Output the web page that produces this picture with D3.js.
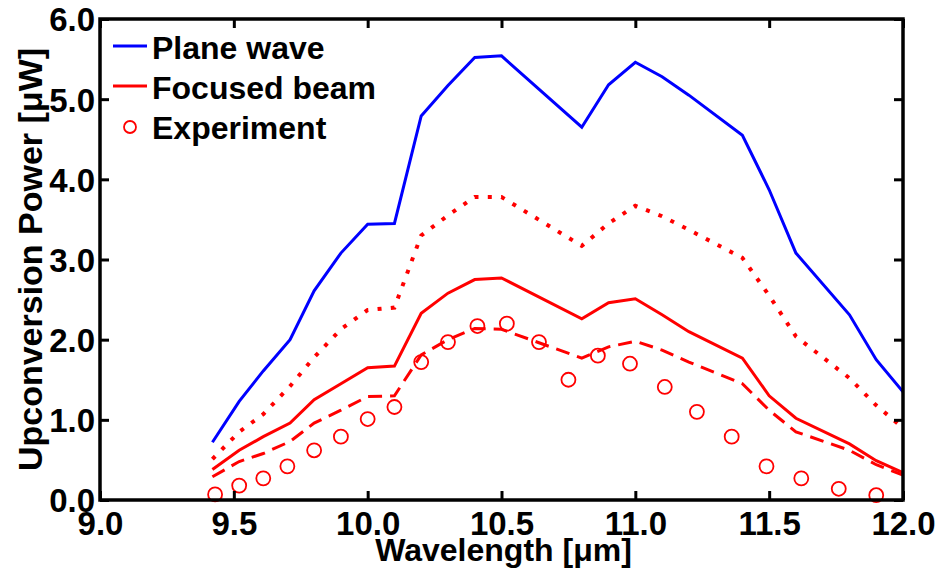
<!DOCTYPE html>
<html><head><meta charset="utf-8">
<script src="https://cdn.jsdelivr.net/npm/d3@7"></script>
<style>
html,body{margin:0;padding:0;background:#fff;}
text{font-family:"Liberation Sans",Arial,sans-serif;font-weight:bold;fill:#000;}
</style></head>
<body><svg id="c" width="939" height="578"></svg>
<script>
// ---- data ----
const wavelength = [9.42, 9.52, 9.61, 9.71, 9.80, 9.90, 10.00, 10.10, 10.20, 10.30, 10.40, 10.50, 10.80, 10.90, 11.00, 11.10, 11.20, 11.40, 11.50, 11.60, 11.80, 11.90, 12.00];
const planeWave   = [0.72, 1.23, 1.61, 2.00, 2.61, 3.08, 3.44, 3.45, 4.79, 5.17, 5.52, 5.54, 4.65, 5.18, 5.46, 5.28, 5.05, 4.55, 3.87, 3.08, 2.31, 1.75, 1.35];
const dottedRed   = [0.51, 0.85, 1.07, 1.42, 1.78, 2.13, 2.37, 2.40, 3.30, 3.55, 3.78, 3.78, 3.17, 3.45, 3.67, 3.54, 3.37, 3.02, 2.55, 2.04, 1.52, 1.18, 0.90];
const focusedBeam = [0.38, 0.62, 0.79, 0.96, 1.25, 1.45, 1.65, 1.67, 2.33, 2.58, 2.75, 2.77, 2.26, 2.46, 2.51, 2.31, 2.10, 1.77, 1.30, 1.02, 0.70, 0.49, 0.34];
const dashedRed   = [0.29, 0.48, 0.58, 0.73, 0.96, 1.12, 1.29, 1.30, 1.81, 2.00, 2.14, 2.13, 1.77, 1.91, 1.98, 1.87, 1.72, 1.45, 1.12, 0.85, 0.62, 0.44, 0.31];
const expWavelength = [9.43, 9.52, 9.61, 9.70, 9.80, 9.90, 10.00, 10.10, 10.20, 10.30, 10.41, 10.52, 10.64, 10.75, 10.86, 10.98, 11.11, 11.23, 11.36, 11.49, 11.62, 11.76, 11.90];
const expPower      = [0.07, 0.18, 0.27, 0.42, 0.62, 0.79, 1.01, 1.16, 1.72, 1.97, 2.17, 2.20, 1.97, 1.50, 1.80, 1.70, 1.41, 1.10, 0.79, 0.42, 0.27, 0.14, 0.06];
const xTicks = [9.0, 9.5, 10.0, 10.5, 11.0, 11.5, 12.0];
const yTicks = [0, 1, 2, 3, 4, 5, 6];
const legendLabels = ["Plane wave", "Focused beam", "Experiment"];
const xLabel = "Wavelength [\u03bcm]";
const yLabel = "Upconversion Power [\u03bcW]";

// ---- layout ----
const L = 100, R = 903, T = 19, B = 500;
const svg = d3.select("#c");
const x = d3.scaleLinear().domain([9, 12]).range([L, R]);
const y = d3.scaleLinear().domain([0, 6]).range([B, T]);

svg.append("clipPath").attr("id","clp").append("rect")
  .attr("x", L).attr("y", T).attr("width", R-L).attr("height", B-T);

const plot = svg.append("g").attr("clip-path","url(#clp)");
const line = d3.line().x(d => x(d[0])).y(d => y(d[1]));
const zip = (a, b) => a.map((v, i) => [v, b[i]]);

const series = [
  {vals: planeWave, color: "#0000ff", dash: null, w: 3},
  {vals: dottedRed, color: "#ff0000", dash: "4,9.3", w: 4},
  {vals: focusedBeam, color: "#ff0000", dash: null, w: 3},
  {vals: dashedRed, color: "#ff0000", dash: "14,8", w: 3}
];
series.forEach(s => {
  plot.append("path").datum(zip(wavelength, s.vals))
    .attr("d", line).attr("fill","none").attr("stroke", s.color)
    .attr("stroke-width", s.w).attr("stroke-dasharray", s.dash)
    .attr("stroke-linejoin","miter");
});
svg.append("g").selectAll("circle").data(zip(expWavelength, expPower)).join("circle")
  .attr("cx", d => x(d[0])).attr("cy", d => y(d[1])).attr("r", 7)
  .attr("fill","none").attr("stroke","#ff0000").attr("stroke-width", 1.8);

// ---- axes ----
const tickLen = 9;
const fmt = d3.format(".1f");
const axB = svg.append("g").attr("transform", `translate(0,${B})`)
  .call(d3.axisBottom(x).tickValues(xTicks).tickSize(-tickLen).tickPadding(0).tickFormat(fmt));
const axT = svg.append("g").attr("transform", `translate(0,${T})`)
  .call(d3.axisTop(x).tickValues(xTicks).tickSize(-tickLen).tickFormat(""));
const axL = svg.append("g").attr("transform", `translate(${L},0)`)
  .call(d3.axisLeft(y).tickValues(yTicks).tickSize(-tickLen).tickPadding(0).tickFormat(fmt));
const axR = svg.append("g").attr("transform", `translate(${R},0)`)
  .call(d3.axisRight(y).tickValues(yTicks).tickSize(-tickLen).tickFormat(""));
[axB, axT, axL, axR].forEach(a => {
  a.select(".domain").remove();
  a.selectAll(".tick line").attr("stroke","#000").attr("stroke-width", 3);
});
axB.selectAll(".tick text").attr("y", 35).attr("dy", null)
  .style("font-size","33px").style("font-family","Liberation Sans, Arial, sans-serif").style("font-weight","bold");
axL.selectAll(".tick text").attr("x", -5).attr("dy", "0.36em")
  .style("font-size","33px").style("font-family","Liberation Sans, Arial, sans-serif").style("font-weight","bold");
svg.append("rect").attr("x", L).attr("y", T).attr("width", R-L).attr("height", B-T)
  .attr("fill","none").attr("stroke","#000").attr("stroke-width", 3.5);

// ---- axis titles ----
svg.append("text").attr("x", (L+R)/2 + 2).attr("y", 561).attr("text-anchor","middle")
  .style("font-size","32px").text(xLabel);
svg.append("text").attr("transform", `translate(42,${(T+B)/2}) rotate(-90)`)
  .attr("text-anchor","middle").style("font-size","34px").text(yLabel);

// ---- legend ----
const lg = svg.append("g");
const rows = [59, 99, 139];
lg.append("line").attr("x1",113).attr("x2",147).attr("y1",rows[0]-13).attr("y2",rows[0]-13)
  .attr("stroke","#0000ff").attr("stroke-width",3);
lg.append("line").attr("x1",113).attr("x2",147).attr("y1",rows[1]-13).attr("y2",rows[1]-13)
  .attr("stroke","#ff0000").attr("stroke-width",3);
lg.append("circle").attr("cx",130).attr("cy",rows[2]-12).attr("r",6)
  .attr("fill","none").attr("stroke","#ff0000").attr("stroke-width",1.8);
legendLabels.forEach((t, i) => {
  lg.append("text").attr("x", 152).attr("y", rows[i]).style("font-size","32px").text(t);
});
</script></body></html>
